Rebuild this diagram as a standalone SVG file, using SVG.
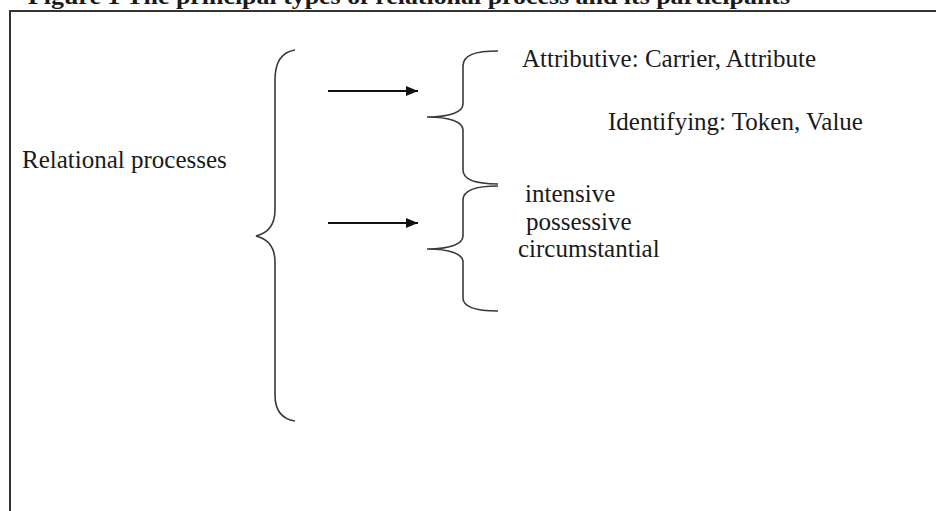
<svg xmlns="http://www.w3.org/2000/svg" width="936" height="511" viewBox="0 0 936 511">
<defs>
<style>
text{font-family:'Liberation Serif','Times New Roman',Times,serif}
.t{font-size:25px;fill:#1a1a1a}
.ttl{font-size:24px;font-weight:bold;fill:#1a1a1a}
.br{fill:none;stroke:#3a3a3a;stroke-width:1.6}
.ar{fill:none;stroke:#111;stroke-width:2}
.fr{fill:none;stroke:#333;stroke-width:2}
</style>
<marker id="ah" viewBox="0 0 12 10" refX="12" refY="5" markerWidth="12" markerHeight="10" markerUnits="userSpaceOnUse" orient="auto">
<path d="M0,0 L12,5 L0,10 z" fill="#111"/>
</marker>
</defs>
<rect width="936" height="511" fill="#fff"/>
<text class="ttl" font-family="Liberation Serif, serif" x="28" y="4" textLength="762" lengthAdjust="spacingAndGlyphs">Figure 1 The principal types of relational process and its participants</text>
<path class="fr" d="M10,511 L10,11 L936,11"/>
<g id="relational">
<text class="t" font-family="Liberation Serif, serif" x="22" y="168">Relational processes</text>
</g>
<g id="brace-main">
<path class="br" d="M295,50 C282,52 275,62 275,80 L275,210 C275,225 268,233 256,236 C268,239 275,247 275,262 L275,395 C275,410 282,419 295,421"/>
</g>
<g id="brace-types">
<path class="br" d="M498,51 C475,51 463,55 463,66 L463,104 C463,112 450,117 427,117 C450,117 463,122 463,130 L463,170 C463,179 475,184 498,184"/>
<text class="t" font-family="Liberation Serif, serif" x="522" y="67">Attributive: Carrier, Attribute</text>
<text class="t" font-family="Liberation Serif, serif" x="608" y="130">Identifying: Token, Value</text>
</g>
<g id="brace-modes">
<path class="br" d="M498,186 C475,186 463,190 463,200 L463,236 C463,244 450,249 427,249 C450,249 463,254 463,262 L463,298 C463,307 475,311 498,311"/>
<text class="t" font-family="Liberation Serif, serif" x="525" y="202">intensive</text>
<text class="t" font-family="Liberation Serif, serif" x="526" y="230">possessive</text>
<text class="t" font-family="Liberation Serif, serif" x="518" y="257">circumstantial</text>
</g>
<g id="connectors">
<line class="ar" x1="328" y1="91" x2="418" y2="91" marker-end="url(#ah)"/>
<line class="ar" x1="328" y1="223" x2="418" y2="223" marker-end="url(#ah)"/>
</g>
</svg>
